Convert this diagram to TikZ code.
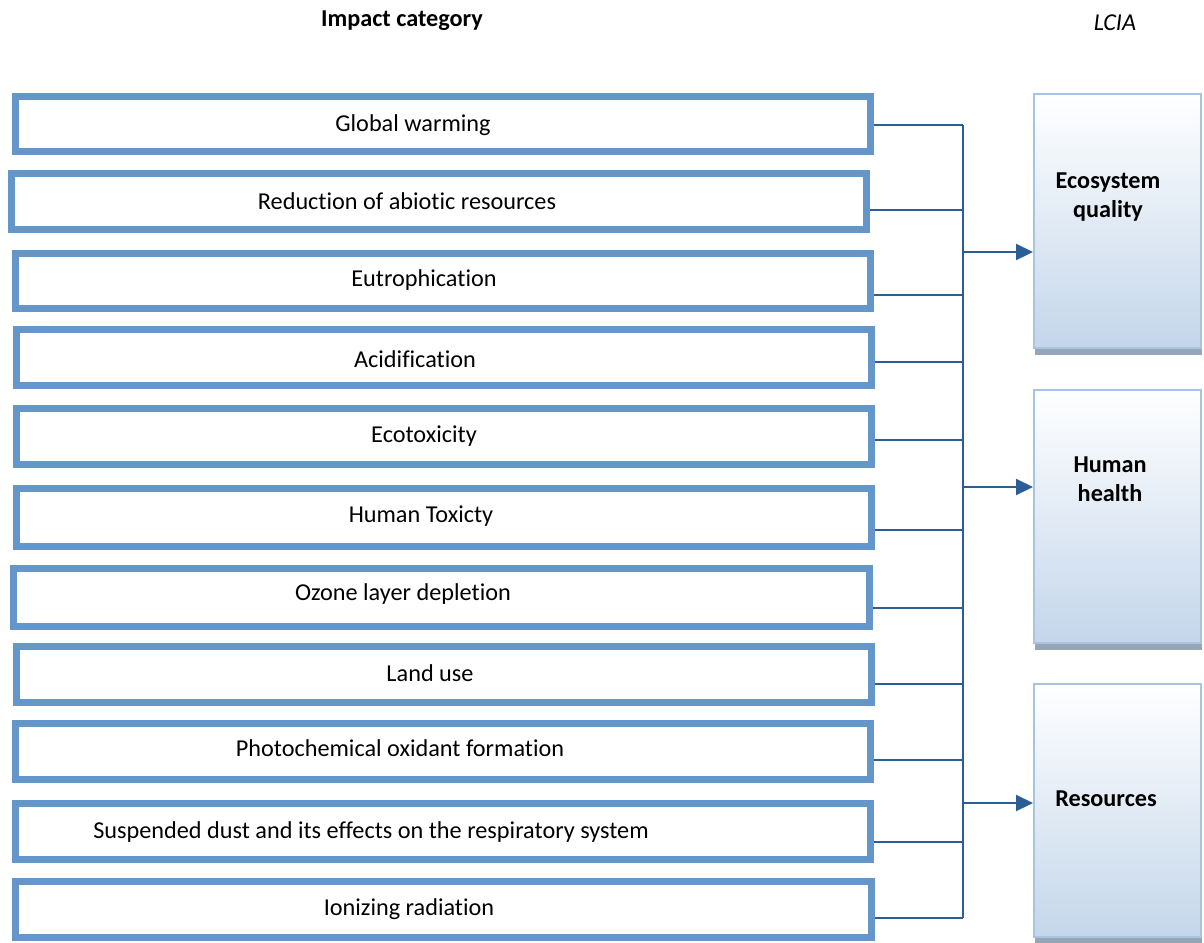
\documentclass[tikz,border=0pt]{standalone}
\usepackage{fontspec}
\setmainfont{Carlito}[Ligatures=NoCommon]
\usepackage{tikz}
\usetikzlibrary{arrows.meta, shadows}
\definecolor{boxblue}{RGB}{100,150,202}
\definecolor{linkblue}{RGB}{44,94,150}
\definecolor{outline}{RGB}{167,196,226}
\definecolor{shadebot}{RGB}{196,214,234}
\definecolor{shadowgray}{RGB}{150,166,182}
\tikzstyle{category} = [rectangle, draw=boxblue, line width=0.14cm, minimum width=17.12cm, minimum height=1.12cm, inner sep=0pt]
\tikzstyle{catlabel} = [font=\fontsize{13.8}{16.5}\selectfont, inner sep=0pt]
\tikzstyle{outcome} = [rectangle, draw=outline, line width=0.04cm, top color=white, bottom color=shadebot, minimum width=3.34cm, minimum height=5.08cm, drop shadow={shadow xshift=0.02cm, shadow yshift=-0.14cm, fill=shadowgray, opacity=1}]
\tikzstyle{outlabel} = [font=\fontsize{13.8}{16.5}\selectfont\bfseries, align=center, inner sep=0pt]
\tikzstyle{link} = [draw=linkblue, line width=0.04cm]
\tikzstyle{flow} = [link, -{Triangle[length=0.34cm,width=0.32cm]}]

\begin{document}
\begin{tikzpicture}[x=0.02cm, y=-0.02cm]
        \useasboundingbox (0,0) rectangle (1204,943);

        % Headers
        \node[catlabel, font=\fontsize{13.8}{16.5}\selectfont\bfseries] (head) at (402,21) {Impact category};
        \node[catlabel, font=\fontsize{13.8}{16.5}\selectfont\itshape] (lcia) at (1115,23) {LCIA};

        % Impact categories
        \node[category] (c1) at (443,124) {};
        \node[category] (c2) at (439,201.5) {};
        \node[category] (c3) at (443,281) {};
        \node[category] (c4) at (444,357.5) {};
        \node[category] (c5) at (444,436.5) {};
        \node[category, minimum height=1.16cm] (c6) at (444,517.5) {};
        \node[category, minimum height=1.16cm] (c7) at (441.5,597.5) {};
        \node[category] (c8) at (444,674.5) {};
        \node[category] (c9) at (443,751) {};
        \node[category] (c10) at (443,831.5) {};
        \node[category] (c11) at (443.5,909) {};

        \node[catlabel] (t1) at (413,125) {Global warming};
        \node[catlabel] (t2) at (407,201) {Reduction of abiotic resources};
        \node[catlabel] (t3) at (424,280) {Eutrophication};
        \node[catlabel] (t4) at (415,359) {Acidification};
        \node[catlabel] (t5) at (424,436) {Ecotoxicity};
        \node[catlabel] (t6) at (421,516) {Human Toxicty};
        \node[catlabel] (t7) at (403,594) {Ozone layer depletion};
        \node[catlabel] (t8) at (430,673) {Land use};
        \node[catlabel] (t9) at (400,748) {Photochemical oxidant formation};
        \node[catlabel] (t10) at (371,832) {Suspended dust and its effects on the respiratory system};
        \node[catlabel] (t11) at (409,909) {Ionizing radiation};

        % Damage categories
        \node[outcome] (eq) at (1117.5,221) {};
        \node[outcome] (hh) at (1117.5,516.5) {};
        \node[outcome] (rs) at (1117.5,810.5) {};
        \node[outlabel] (eqt) at (1108,197) {Ecosystem\\quality};
        \node[outlabel] (hht) at (1110,479) {Human\\health};
        \node[outlabel] (rst) at (1106,799) {Resources};

        % Bus
        \coordinate (j1) at (963,125);
        \coordinate (j2) at (963,210);
        \coordinate (j3) at (963,295);
        \coordinate (j4) at (963,362);
        \coordinate (j5) at (963,440);
        \coordinate (j6) at (963,530);
        \coordinate (j7) at (963,608);
        \coordinate (j8) at (963,684);
        \coordinate (j9) at (963,760);
        \coordinate (j10) at (963,842);
        \coordinate (j11) at (963,918);
        \coordinate (a1) at (963,252);
        \coordinate (a2) at (963,487);
        \coordinate (a3) at (963,803);

        % Edges
        \draw[link] (c1.east |- j1) -- (j1);
        \draw[link] (c2.east |- j2) -- (j2);
        \draw[link] (c3.east |- j3) -- (j3);
        \draw[link] (c4.east |- j4) -- (j4);
        \draw[link] (c5.east |- j5) -- (j5);
        \draw[link] (c6.east |- j6) -- (j6);
        \draw[link] (c7.east |- j7) -- (j7);
        \draw[link] (c8.east |- j8) -- (j8);
        \draw[link] (c9.east |- j9) -- (j9);
        \draw[link] (c10.east |- j10) -- (j10);
        \draw[link] (c11.east |- j11) -- (j11);
        \draw[link] (j1) -- (j11);

        \draw[flow] (a1) -- (eq.west |- a1);
        \draw[flow] (a2) -- (hh.west |- a2);
        \draw[flow] (a3) -- (rs.west |- a3);
\end{tikzpicture}
\end{document}
